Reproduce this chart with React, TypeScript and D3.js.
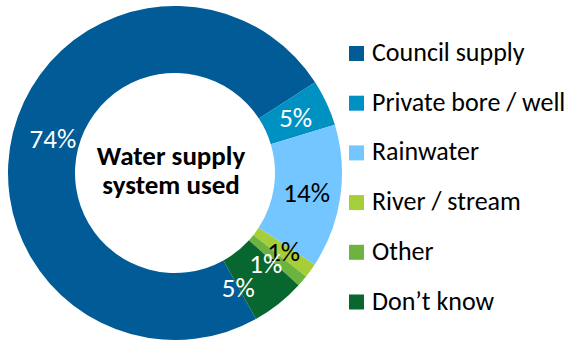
import React from "react";
import * as d3 from "d3";

const categories = ["Council supply", "Private bore / well", "Rainwater", "River / stream", "Other", "Don\u2019t know"];
const values = [73.9, 4.5, 13.9, 1.4, 1.1, 5.2];
const colors = ["#005B96", "#0091C3", "#73C6FF", "#A6CE39", "#6CB33F", "#08662F"];
const labelColors = ["#FFFFFF", "#FFFFFF", "#000000", "#000000", "#FFFFFF", "#FFFFFF"];
const centerTitle = ["Water supply", "system used"];

const W = 573;
const H = 343;
const FONT = "Calibri, Carlito, Lato, 'Open Sans', sans-serif";

export default function App() {
  const cx = 175;
  const cy = 173;
  const outerR = 167;
  const innerR = 100;
  const start = (151 * Math.PI) / 180;

  const pie = d3
    .pie<number>()
    .sort(null)
    .value((d) => d)
    .startAngle(start)
    .endAngle(start + 2 * Math.PI);
  const arcs = pie(values);
  const arc = d3.arc<d3.PieArcDatum<number>>().innerRadius(innerR).outerRadius(outerR);

  // small-slice label nudges (degrees) to avoid overlap, like the original
  const labelNudge = [2, 0, 0, 0, 4.5, 9.5];
  const labelRadius = [127, 133, 133, 134, 128, 131];

  const legendY = d3.scaleBand<string>().domain(categories).range([46, 46 + 49.7 * 6]);

  return (
    <svg width={W} height={H} style={{ position: "absolute", left: 0, top: 0, background: "#fff" }}>
      <g transform={`translate(${cx},${cy})`}>
        {arcs.map((a, i) => (
          <path key={i} d={arc(a) || ""} fill={colors[i]} />
        ))}
        {arcs.map((a, i) => {
          const mid = (a.startAngle + a.endAngle) / 2 + (labelNudge[i] * Math.PI) / 180;
          const r = labelRadius[i];
          const x = r * Math.sin(mid);
          const y = -r * Math.cos(mid);
          return (
            <text
              key={"l" + i}
              x={x}
              y={y}
              dy="0.36em"
              textAnchor="middle"
              fill={labelColors[i]}
              fontFamily={FONT}
              fontSize={27}
            >
              {Math.round(values[i])}%
            </text>
          );
        })}
        {centerTitle.map((t, i) => (
          <text
            key={"c" + i}
            x={-4}
            y={-8 + i * 28.5}
            textAnchor="middle"
            fontFamily={FONT}
            fontWeight="bold"
            fontSize={27}
            fill="#000"
          >
            {t}
          </text>
        ))}
      </g>
      <g>
        {categories.map((c, i) => {
          const y0 = legendY(c)!;
          return (
            <g key={"g" + i}>
              <rect x={349} y={y0} width={15} height={15} fill={colors[i]} />
              <text x={372} y={y0 + 15} fontFamily={FONT} fontSize={26} fill="#000">
                {c}
              </text>
            </g>
          );
        })}
      </g>
    </svg>
  );
}
